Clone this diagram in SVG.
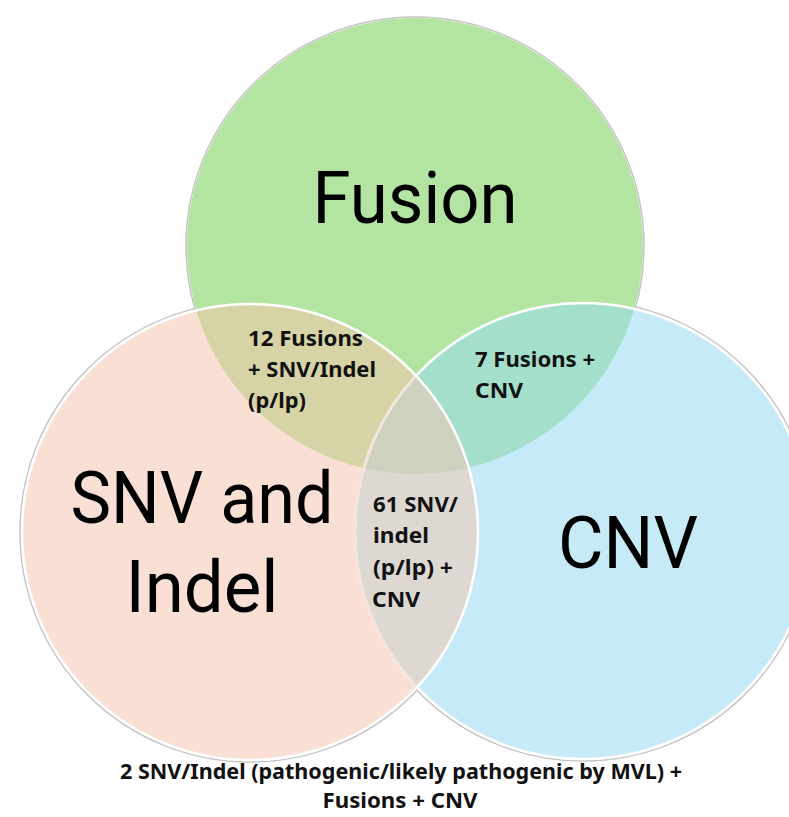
<svg xmlns="http://www.w3.org/2000/svg" width="789" height="817" viewBox="0 0 789 817">
<style>
.big{font-family:Roboto,"Noto Sans","Liberation Sans",sans-serif;font-size:72px;fill:#000;}
.lbl{font-family:"Noto Sans","Liberation Sans",sans-serif;font-size:22px;font-weight:bold;fill:#111;}
.btm{font-family:"Noto Sans","Liberation Sans",sans-serif;font-size:21px;font-weight:bold;fill:#111;}
.shadow{fill:none;stroke:#c4c4c4;stroke-width:1.5;}
</style>
<defs>
<clipPath id="clipF"><circle cx="415" cy="246" r="228"/></clipPath>
<clipPath id="clipS"><circle cx="250" cy="532" r="228"/></clipPath>
</defs>
<rect width="789" height="817" fill="#fff"/>
<g id="shadows">
<circle class="shadow" cx="415" cy="246" r="229"/>
<circle class="shadow" cx="250" cy="532" r="230"/>
<circle class="shadow" cx="583" cy="531" r="230"/>
</g>
<g id="fusion">
<circle cx="415" cy="246" r="228" fill="#b4e4a2"/>
<text class="big" x="415" y="223" text-anchor="middle" textLength="205" lengthAdjust="spacingAndGlyphs">Fusion</text>
</g>
<g id="snv">
<circle cx="250" cy="532" r="228" fill="#f9dfd4"/>
</g>
<g id="cnv">
<circle cx="583" cy="531" r="228" fill="#c7eaf9"/>
</g>
<g id="overlaps">
<g clip-path="url(#clipF)">
<circle cx="250" cy="532" r="228" fill="#d6d4a7"/>
<circle cx="583" cy="531" r="228" fill="#a4dfcb"/>
</g>
<g clip-path="url(#clipS)">
<circle cx="583" cy="531" r="228" fill="#ddd8d2"/>
<g clip-path="url(#clipF)">
<circle cx="583" cy="531" r="228" fill="#cdd1bd"/>
</g>
</g>
</g>
<g id="outlines">
<circle cx="583" cy="531" r="228" fill="none" stroke="#fff" stroke-width="2.5"/>
<g clip-path="url(#clipS)">
<circle cx="583" cy="531" r="228" fill="none" stroke="#f3e3da" stroke-width="2.5"/>
</g>
<circle cx="250" cy="532" r="228" fill="none" stroke="#fff" stroke-width="2.5"/>
</g>
<g id="labels-main">
<text class="big" x="202" y="523" text-anchor="middle" textLength="263" lengthAdjust="spacingAndGlyphs">SNV and</text>
<text class="big" x="202" y="612" text-anchor="middle" textLength="153" lengthAdjust="spacingAndGlyphs">Indel</text>
<text class="big" x="628" y="568" text-anchor="middle" textLength="140" lengthAdjust="spacingAndGlyphs">CNV</text>
</g>
<g id="fusion-snv">
<text class="lbl" x="248" y="346" textLength="115" lengthAdjust="spacingAndGlyphs">12 Fusions</text>
<text class="lbl" x="248" y="377" textLength="128" lengthAdjust="spacingAndGlyphs">+ SNV/Indel</text>
<text class="lbl" x="248" y="408" textLength="58" lengthAdjust="spacingAndGlyphs">(p/lp)</text>
</g>
<g id="fusion-cnv">
<text class="lbl" x="475" y="367" textLength="120" lengthAdjust="spacingAndGlyphs">7 Fusions +</text>
<text class="lbl" x="475" y="398" textLength="48" lengthAdjust="spacingAndGlyphs">CNV</text>
</g>
<g id="snv-cnv">
<text class="lbl" x="373" y="512" textLength="85" lengthAdjust="spacingAndGlyphs">61 SNV/</text>
<text class="lbl" x="373" y="543" textLength="56" lengthAdjust="spacingAndGlyphs">indel</text>
<text class="lbl" x="373" y="575" textLength="80" lengthAdjust="spacingAndGlyphs">(p/lp) +</text>
<text class="lbl" x="372" y="607" textLength="48" lengthAdjust="spacingAndGlyphs">CNV</text>
</g>
<g id="all-three">
<text class="btm" x="401" y="779" text-anchor="middle" textLength="562" lengthAdjust="spacingAndGlyphs">2 SNV/Indel (pathogenic/likely pathogenic by MVL) +</text>
<text class="btm" x="400" y="808" text-anchor="middle" textLength="155" lengthAdjust="spacingAndGlyphs">Fusions + CNV</text>
</g>
</svg>
